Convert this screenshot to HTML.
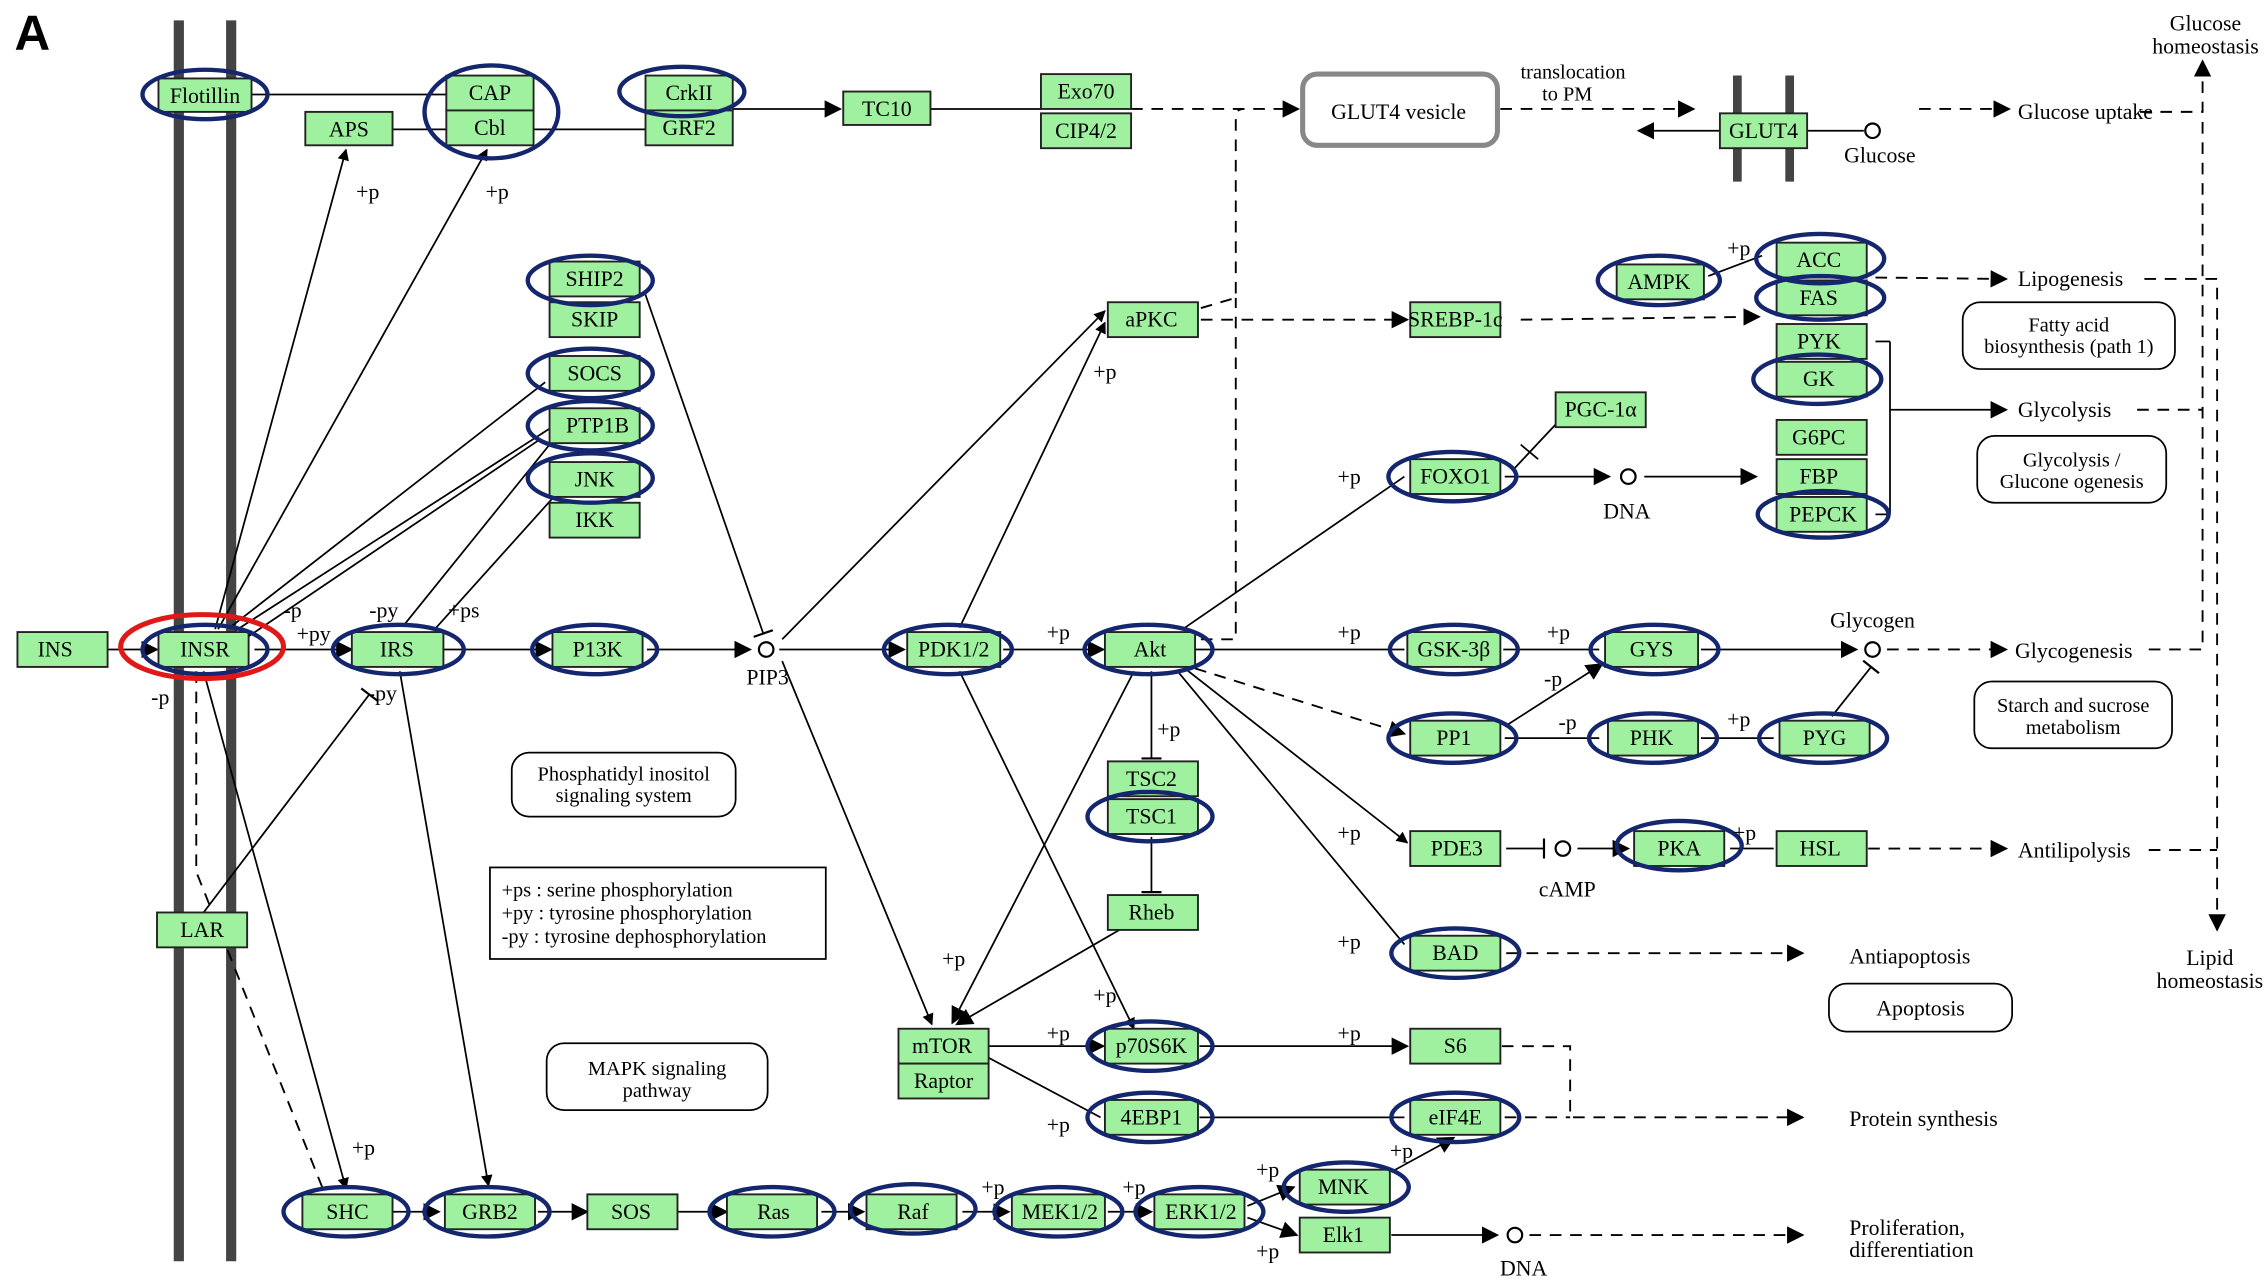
<!DOCTYPE html>
<html><head><meta charset="utf-8"><style>
html,body{margin:0;padding:0;background:#fff;}
svg{display:block;}
text{font-family:"Liberation Serif",serif;fill:#000;}
.b rect{fill:#9ff09f;stroke:#222;stroke-width:1.3;}
.b text{font-size:15px;text-anchor:middle;dominant-baseline:central;}
.e{fill:none;stroke:#14266e;stroke-width:3;}
.l{stroke:#000;stroke-width:1.2;fill:none;}
.d{stroke:#000;stroke-width:1.3;fill:none;stroke-dasharray:8 6;}
.t{font-size:15px;}
.s{font-size:14px;}
.c{fill:#fff;stroke:#000;stroke-width:1.5;}
.r{fill:#fff;stroke:#000;stroke-width:1.2;}
</style></head><body>
<svg width="2268" height="1283" viewBox="0 0 1560 883" preserveAspectRatio="none" xmlns="http://www.w3.org/2000/svg">
<defs>
<marker id="a" viewBox="0 0 10 10" refX="9" refY="5" markerWidth="8" markerHeight="8" orient="auto" markerUnits="userSpaceOnUse"><path d="M0,0L10,5L0,10z" fill="#000"/></marker>
<marker id="A" viewBox="0 0 10 10" refX="9" refY="5" markerWidth="12" markerHeight="12" orient="auto" markerUnits="userSpaceOnUse"><path d="M0,0L10,5L0,10z" fill="#000"/></marker>
<marker id="i" viewBox="0 0 4 14" refX="2" refY="7" markerWidth="4" markerHeight="14" orient="auto" markerUnits="userSpaceOnUse"><path d="M2,0V14" stroke="#000" stroke-width="1.5"/></marker>
</defs>
<text x="10" y="34" style="font-family:'Liberation Sans',sans-serif;font-weight:bold;font-size:34px">A</text>
<!-- membranes -->
<line x1="123" y1="14" x2="123" y2="868" stroke="#444" stroke-width="7"/>
<line x1="159" y1="14" x2="159" y2="868" stroke="#444" stroke-width="7"/>
<line x1="1195" y1="52" x2="1195" y2="125" stroke="#444" stroke-width="6"/>
<line x1="1231" y1="52" x2="1231" y2="125" stroke="#444" stroke-width="6"/>

<!-- edges -->
<g class="l">
<line x1="173" y1="65" x2="307" y2="65"/>
<line x1="270" y1="89" x2="307" y2="89"/>
<line x1="367" y1="89" x2="446" y2="89"/>
<line x1="502" y1="75" x2="578" y2="75" marker-end="url(#A)"/>
<line x1="640" y1="75" x2="716" y2="75"/>
<line x1="1183" y1="90" x2="1127" y2="90" marker-end="url(#A)"/>
<line x1="1243" y1="90" x2="1282" y2="90"/>
<line x1="148" y1="433" x2="238" y2="103" marker-end="url(#a)"/>
<line x1="150" y1="433" x2="335" y2="103" marker-end="url(#a)"/>
<line x1="158" y1="432" x2="375" y2="263"/>
<line x1="162" y1="434" x2="378" y2="295"/>
<line x1="168" y1="440" x2="372" y2="302"/>
<line x1="278" y1="430" x2="378" y2="306"/>
<line x1="300" y1="432" x2="380" y2="343"/>
<line x1="443" y1="200" x2="525" y2="436" marker-end="url(#i)"/>
<line x1="74" y1="447" x2="108" y2="447" marker-end="url(#A)"/>
<line x1="175" y1="447" x2="242" y2="447" marker-end="url(#A)"/>
<line x1="305" y1="447" x2="379" y2="447" marker-end="url(#A)"/>
<line x1="445" y1="447" x2="516" y2="447" marker-end="url(#A)"/>
<line x1="536" y1="447" x2="622" y2="447" marker-end="url(#A)"/>
<line x1="690" y1="447" x2="759" y2="447" marker-end="url(#A)"/>
<line x1="822" y1="447" x2="966" y2="447"/>
<line x1="1034" y1="447" x2="1100" y2="447"/>
<line x1="1170" y1="447" x2="1277" y2="447" marker-end="url(#A)"/>
<line x1="538" y1="440" x2="760" y2="214" marker-end="url(#a)"/>
<line x1="660" y1="432" x2="760" y2="222" marker-end="url(#a)"/>
<line x1="538" y1="455" x2="641" y2="705" marker-end="url(#a)"/>
<line x1="815" y1="432" x2="966" y2="328"/>
<line x1="1035" y1="328" x2="1107" y2="328" marker-end="url(#A)"/>
<line x1="1131" y1="328" x2="1208" y2="328" marker-end="url(#A)"/>
<line x1="1072" y1="290" x2="1042" y2="322"/>
<line x1="1046" y1="306" x2="1058" y2="316" transform="rotate(0)"/>
<line x1="1175" y1="190" x2="1212" y2="176"/>
<line x1="1290" y1="235" x2="1300" y2="235"/><line x1="1300" y1="235" x2="1300" y2="354"/><line x1="1300" y1="282" x2="1380" y2="282" marker-end="url(#A)"/><line x1="1290" y1="354" x2="1300" y2="354"/>
<line x1="815" y1="460" x2="968" y2="580" marker-end="url(#a)"/>
<line x1="810" y1="462" x2="966" y2="650"/>
<line x1="1035" y1="500" x2="1102" y2="457" marker-end="url(#A)"/>
<line x1="1035" y1="508" x2="1100" y2="508"/>
<line x1="1170" y1="508" x2="1220" y2="508"/>
<line x1="1260" y1="493" x2="1287" y2="459" marker-end="url(#i)"/>
<line x1="1036" y1="584" x2="1062" y2="584" marker-end="url(#i)"/>
<line x1="1085" y1="584" x2="1120" y2="584" marker-end="url(#A)"/>
<line x1="1190" y1="584" x2="1220" y2="584"/>
<line x1="792" y1="462" x2="792" y2="522" marker-end="url(#i)"/>
<line x1="792" y1="576" x2="792" y2="614" marker-end="url(#i)"/>
<line x1="770" y1="640" x2="658" y2="705" marker-end="url(#A)"/>
<line x1="780" y1="462" x2="655" y2="704" marker-end="url(#A)"/>
<line x1="660" y1="462" x2="780" y2="708" marker-end="url(#a)"/>
<line x1="680" y1="720" x2="759" y2="720" marker-end="url(#A)"/>
<line x1="825" y1="720" x2="968" y2="720" marker-end="url(#A)"/>
<line x1="680" y1="728" x2="757" y2="769"/>
<line x1="825" y1="769" x2="966" y2="769"/>
<line x1="140" y1="462" x2="238" y2="818" marker-end="url(#a)"/>
<line x1="275" y1="462" x2="336" y2="816" marker-end="url(#a)"/>
<line x1="140" y1="628" x2="254" y2="478" marker-end="url(#i)"/>
<line x1="270" y1="834" x2="302" y2="834" marker-end="url(#A)"/>
<line x1="370" y1="834" x2="404" y2="834" marker-end="url(#A)"/>
<line x1="465" y1="834" x2="500" y2="834" marker-end="url(#A)"/>
<line x1="565" y1="834" x2="594" y2="834" marker-end="url(#A)"/>
<line x1="662" y1="834" x2="694" y2="834" marker-end="url(#A)"/>
<line x1="762" y1="834" x2="792" y2="834" marker-end="url(#A)"/>
<line x1="858" y1="830" x2="890" y2="817" marker-end="url(#A)"/>
<line x1="858" y1="838" x2="892" y2="850" marker-end="url(#A)"/>
<line x1="958" y1="806" x2="1000" y2="783" marker-end="url(#A)"/>
<line x1="957" y1="850" x2="1030" y2="850" marker-end="url(#A)"/>
</g>
<g class="d">
<line x1="778" y1="75" x2="893" y2="75" marker-end="url(#A)"/>
<line x1="1032" y1="75" x2="1165" y2="75" marker-end="url(#A)"/>
<line x1="1320" y1="75" x2="1382" y2="75" marker-end="url(#A)"/>
<path d="M1472,77H1515V42" marker-end="url(#A)"/>
<path d="M826,212L850,205V80Q850,75 856,75"/>
<path d="M826,440H850V205"/>
<line x1="826" y1="220" x2="968" y2="220" marker-end="url(#A)"/>
<line x1="1046" y1="220" x2="1210" y2="218" marker-end="url(#A)"/>
<line x1="1290" y1="191" x2="1380" y2="192" marker-end="url(#A)"/>
<path d="M1475,192H1525V640" marker-end="url(#A)"/>
<path d="M1470,282H1515"/>
<path d="M1478,447H1515V80"/>
<path d="M1478,585H1525"/>
<line x1="1298" y1="447" x2="1380" y2="447" marker-end="url(#A)"/>
<line x1="822" y1="460" x2="966" y2="505" marker-end="url(#A)"/>
<line x1="1285" y1="584" x2="1380" y2="584" marker-end="url(#A)"/>
<line x1="1036" y1="656" x2="1240" y2="656" marker-end="url(#A)"/>
<path d="M1033,720H1080V769H1240" marker-end="url(#A)"/>
<line x1="1035" y1="769" x2="1080" y2="769"/>
<line x1="1052" y1="850" x2="1240" y2="850" marker-end="url(#A)"/>
<path d="M135,462V600L222,818"/>
</g>

<!-- circles -->
<circle class="c" cx="1288" cy="90" r="5"/>
<circle class="c" cx="527" cy="447" r="5"/>
<circle class="c" cx="1120" cy="328" r="5"/>
<circle class="c" cx="1288" cy="447" r="5"/>
<circle class="c" cx="1075" cy="584" r="5"/>
<circle class="c" cx="1042" cy="850" r="5"/>

<!-- GLUT4 vesicle -->
<rect x="896" y="51" width="134" height="49" rx="10" fill="#fff" stroke="#888" stroke-width="3.5"/>
<text x="962" y="82" class="t" text-anchor="middle">GLUT4 vesicle</text>

<!-- rounded boxes -->
<rect class="r" x="352" y="518" width="154" height="44" rx="12"/>
<text x="429" y="537" class="s" text-anchor="middle">Phosphatidyl inositol</text><text x="429" y="552" class="s" text-anchor="middle">signaling system</text>
<rect class="r" x="376" y="718" width="152" height="46" rx="12"/>
<text x="452" y="740" class="s" text-anchor="middle">MAPK signaling</text><text x="452" y="755" class="s" text-anchor="middle">pathway</text>
<rect x="337" y="597" width="231" height="63" fill="#fff" stroke="#000" stroke-width="1.2"/>
<text x="345" y="617" class="s">+ps : serine phosphorylation</text>
<text x="345" y="633" class="s">+py : tyrosine phosphorylation</text>
<text x="345" y="649" class="s">-py : tyrosine dephosphorylation</text>
<rect class="r" x="1350" y="208" width="146" height="46" rx="12"/>
<text x="1423" y="228" class="s" text-anchor="middle">Fatty acid</text><text x="1423" y="243" class="s" text-anchor="middle">biosynthesis (path 1)</text>
<rect class="r" x="1360" y="300" width="130" height="46" rx="12"/>
<text x="1425" y="321" class="s" text-anchor="middle">Glycolysis /</text><text x="1425" y="336" class="s" text-anchor="middle">Glucone ogenesis</text>
<rect class="r" x="1358" y="469" width="136" height="46" rx="12"/>
<text x="1426" y="490" class="s" text-anchor="middle">Starch and sucrose</text><text x="1426" y="505" class="s" text-anchor="middle">metabolism</text>
<rect class="r" x="1258" y="677" width="126" height="33" rx="12"/>
<text x="1321" y="699" class="t" text-anchor="middle">Apoptosis</text>

<!-- nodes -->
<g class="b">
<rect x="109" y="54" width="64" height="23"/><text x="141" y="66">Flotillin</text>
<rect x="307" y="52" width="60" height="24"/><text x="337" y="64">CAP</text>
<rect x="307" y="76" width="60" height="24"/><text x="337" y="88">Cbl</text>
<rect x="210" y="77" width="60" height="23"/><text x="240" y="89">APS</text>
<rect x="444" y="52" width="60" height="24"/><text x="474" y="64">CrkII</text>
<rect x="444" y="76" width="60" height="24"/><text x="474" y="88">GRF2</text>
<rect x="580" y="63" width="60" height="23"/><text x="610" y="75">TC10</text>
<rect x="716" y="51" width="62" height="24"/><text x="747" y="63">Exo70</text>
<rect x="716" y="78" width="62" height="24"/><text x="747" y="90">CIP4/2</text>
<rect x="1183" y="78" width="60" height="24"/><text x="1213" y="90">GLUT4</text>
<rect x="378" y="180" width="62" height="24"/><text x="409" y="192">SHIP2</text>
<rect x="378" y="208" width="62" height="24"/><text x="409" y="220">SKIP</text>
<rect x="378" y="245" width="62" height="24"/><text x="409" y="257">SOCS</text>
<rect x="378" y="281" width="62" height="24"/><text x="411" y="293">PTP1B</text>
<rect x="378" y="318" width="62" height="24"/><text x="409" y="330">JNK</text>
<rect x="378" y="346" width="62" height="24"/><text x="409" y="358">IKK</text>
<rect x="12" y="435" width="62" height="24"/><text x="38" y="447">INS</text>
<rect x="109" y="435" width="62" height="24"/><text x="141" y="447">INSR</text>
<rect x="242" y="435" width="63" height="24"/><text x="273" y="447">IRS</text>
<rect x="380" y="435" width="62" height="24"/><text x="411" y="447">P13K</text>
<rect x="624" y="435" width="64" height="24"/><text x="656" y="447">PDK1/2</text>
<rect x="760" y="435" width="62" height="24"/><text x="791" y="447">Akt</text>
<rect x="968" y="435" width="64" height="24"/><text x="1000" y="447">GSK-3β</text>
<rect x="1104" y="435" width="64" height="24"/><text x="1136" y="447">GYS</text>
<rect x="762" y="208" width="62" height="24"/><text x="792" y="220">aPKC</text>
<rect x="970" y="208" width="62" height="24"/><text x="1001" y="220">SREBP-1c</text>
<rect x="1112" y="182" width="60" height="24"/><text x="1141" y="194">AMPK</text>
<rect x="1222" y="167" width="62" height="24"/><text x="1251" y="179">ACC</text>
<rect x="1222" y="193" width="62" height="24"/><text x="1251" y="205">FAS</text>
<rect x="1222" y="223" width="62" height="24"/><text x="1251" y="235">PYK</text>
<rect x="1222" y="249" width="62" height="24"/><text x="1251" y="261">GK</text>
<rect x="1222" y="289" width="62" height="24"/><text x="1251" y="301">G6PC</text>
<rect x="1222" y="316" width="62" height="24"/><text x="1251" y="328">FBP</text>
<rect x="1222" y="342" width="62" height="24"/><text x="1254" y="354">PEPCK</text>
<rect x="1070" y="270" width="62" height="24"/><text x="1101" y="282">PGC-1α</text>
<rect x="970" y="316" width="62" height="24"/><text x="1001" y="328">FOXO1</text>
<rect x="970" y="496" width="62" height="24"/><text x="1000" y="508">PP1</text>
<rect x="1106" y="496" width="62" height="24"/><text x="1136" y="508">PHK</text>
<rect x="1224" y="496" width="62" height="24"/><text x="1255" y="508">PYG</text>
<rect x="762" y="524" width="62" height="24"/><text x="792" y="536">TSC2</text>
<rect x="762" y="550" width="62" height="24"/><text x="792" y="562">TSC1</text>
<rect x="762" y="616" width="62" height="24"/><text x="792" y="628">Rheb</text>
<rect x="970" y="572" width="62" height="24"/><text x="1002" y="584">PDE3</text>
<rect x="1124" y="572" width="62" height="24"/><text x="1155" y="584">PKA</text>
<rect x="1222" y="572" width="62" height="24"/><text x="1252" y="584">HSL</text>
<rect x="970" y="644" width="62" height="24"/><text x="1001" y="656">BAD</text>
<rect x="618" y="708" width="62" height="24"/><text x="648" y="720">mTOR</text>
<rect x="618" y="732" width="62" height="24"/><text x="649" y="744">Raptor</text>
<rect x="760" y="708" width="64" height="24"/><text x="792" y="720">p70S6K</text>
<rect x="970" y="708" width="62" height="24"/><text x="1001" y="720">S6</text>
<rect x="760" y="757" width="64" height="24"/><text x="792" y="769">4EBP1</text>
<rect x="970" y="757" width="62" height="24"/><text x="1001" y="769">eIF4E</text>
<rect x="108" y="628" width="62" height="24"/><text x="139" y="640">LAR</text>
<rect x="208" y="822" width="62" height="24"/><text x="239" y="834">SHC</text>
<rect x="306" y="822" width="62" height="24"/><text x="337" y="834">GRB2</text>
<rect x="404" y="822" width="62" height="24"/><text x="434" y="834">SOS</text>
<rect x="500" y="822" width="62" height="24"/><text x="532" y="834">Ras</text>
<rect x="596" y="822" width="62" height="24"/><text x="628" y="834">Raf</text>
<rect x="696" y="822" width="64" height="24"/><text x="729" y="834">MEK1/2</text>
<rect x="794" y="822" width="62" height="24"/><text x="826" y="834">ERK1/2</text>
<rect x="894" y="805" width="62" height="24"/><text x="924" y="817">MNK</text>
<rect x="894" y="838" width="62" height="24"/><text x="924" y="850">Elk1</text>
</g>

<!-- ellipses -->
<g class="e">
<ellipse cx="141" cy="65" rx="43" ry="17"/>
<ellipse cx="338" cy="77" rx="46" ry="32"/>
<ellipse cx="469" cy="63" rx="43" ry="17"/>
<ellipse cx="406" cy="193" rx="43" ry="17"/>
<ellipse cx="406" cy="257" rx="43" ry="17"/>
<ellipse cx="406" cy="293" rx="43" ry="17"/>
<ellipse cx="406" cy="329" rx="43" ry="17"/>
<ellipse cx="141" cy="447" rx="43" ry="17"/>
<ellipse cx="274" cy="447" rx="45" ry="17"/>
<ellipse cx="409" cy="447" rx="43" ry="17"/>
<ellipse cx="652" cy="447" rx="44" ry="17"/>
<ellipse cx="790" cy="447" rx="44" ry="17"/>
<ellipse cx="1000" cy="447" rx="44" ry="17"/>
<ellipse cx="1138" cy="447" rx="44" ry="17"/>
<ellipse cx="1141" cy="193" rx="42" ry="17"/>
<ellipse cx="1252" cy="178" rx="44" ry="17"/>
<ellipse cx="1252" cy="205" rx="44" ry="15"/>
<ellipse cx="1250" cy="261" rx="44" ry="17"/>
<ellipse cx="1254" cy="354" rx="45" ry="16"/>
<ellipse cx="999" cy="328" rx="44" ry="17"/>
<ellipse cx="999" cy="508" rx="44" ry="17"/>
<ellipse cx="1137" cy="508" rx="44" ry="17"/>
<ellipse cx="1254" cy="508" rx="44" ry="17"/>
<ellipse cx="791" cy="562" rx="43" ry="17"/>
<ellipse cx="1155" cy="582" rx="43" ry="17"/>
<ellipse cx="1001" cy="656" rx="44" ry="17"/>
<ellipse cx="791" cy="720" rx="43" ry="17"/>
<ellipse cx="791" cy="769" rx="43" ry="17"/>
<ellipse cx="1001" cy="769" rx="44" ry="17"/>
<ellipse cx="238" cy="834" rx="43" ry="17"/>
<ellipse cx="335" cy="834" rx="43" ry="17"/>
<ellipse cx="531" cy="834" rx="43" ry="17"/>
<ellipse cx="628" cy="832" rx="43" ry="17"/>
<ellipse cx="728" cy="834" rx="44" ry="17"/>
<ellipse cx="825" cy="834" rx="44" ry="17"/>
<ellipse cx="926" cy="817" rx="43" ry="17"/>
</g>
<ellipse cx="139" cy="445" rx="56" ry="22" fill="none" stroke="#e01818" stroke-width="3.5"/>

<!-- labels -->
<g class="t">
<text x="1082" y="54" text-anchor="middle" class="s">translocation</text>
<text x="1078" y="69" text-anchor="middle" class="s">to PM</text>
<text x="1293" y="112" text-anchor="middle">Glucose</text>
<text x="1517" y="21" text-anchor="middle">Glucose</text>
<text x="1517" y="37" text-anchor="middle">homeostasis</text>
<text x="1388" y="82">Glucose uptake</text>
<text x="1388" y="197">Lipogenesis</text>
<text x="1388" y="287">Glycolysis</text>
<text x="1386" y="453">Glycogenesis</text>
<text x="1388" y="590">Antilipolysis</text>
<text x="1520" y="664" text-anchor="middle">Lipid</text>
<text x="1520" y="680" text-anchor="middle">homeostasis</text>
<text x="1272" y="663">Antiapoptosis</text>
<text x="1272" y="775">Protein synthesis</text>
<text x="1272" y="850">Proliferation,</text>
<text x="1272" y="865">differentiation</text>
<text x="1288" y="432" text-anchor="middle">Glycogen</text>
<text x="528" y="471" text-anchor="middle">PIP3</text>
<text x="1119" y="357" text-anchor="middle">DNA</text>
<text x="1078" y="617" text-anchor="middle">cAMP</text>
<text x="1048" y="878" text-anchor="middle">DNA</text>
<text x="245" y="137">+p</text><text x="334" y="137">+p</text>
<text x="195" y="425">-p</text><text x="204" y="441">+py</text>
<text x="254" y="425">-py</text><text x="308" y="425">+ps</text>
<text x="104" y="485">-p</text><text x="253" y="482">-py</text>
<text x="752" y="261">+p</text>
<text x="720" y="440">+p</text>
<text x="920" y="333">+p</text>
<text x="920" y="440">+p</text>
<text x="1064" y="440">+p</text>
<text x="1062" y="472">-p</text>
<text x="1072" y="502">-p</text>
<text x="1188" y="500">+p</text>
<text x="1188" y="176">+p</text>
<text x="796" y="507">+p</text>
<text x="920" y="578">+p</text>
<text x="1192" y="578">+p</text>
<text x="920" y="653">+p</text>
<text x="648" y="665">+p</text>
<text x="752" y="690">+p</text>
<text x="720" y="716">+p</text>
<text x="920" y="716">+p</text>
<text x="720" y="779">+p</text>
<text x="242" y="795">+p</text>
<text x="675" y="822">+p</text>
<text x="772" y="822">+p</text>
<text x="864" y="810">+p</text>
<text x="956" y="797">+p</text>
<text x="864" y="866">+p</text>
</g>
</svg>
</body></html>
